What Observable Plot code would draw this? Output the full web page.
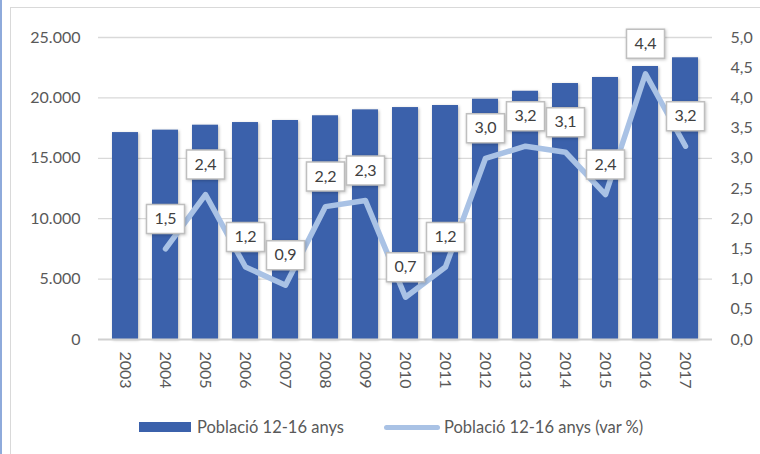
<!DOCTYPE html>
<html>
<head>
<meta charset="utf-8">
<script src="https://cdn.jsdelivr.net/npm/d3@7"></script>
<script src="https://cdn.jsdelivr.net/npm/@observablehq/plot@0.6"></script>
<style>
  html, body { margin: 0; padding: 0; background: #fff; }
  body { width: 760px; height: 454px; position: relative; overflow: hidden; font-family: Lato, "Open Sans", sans-serif; }
  #blueline { position: absolute; left: 0; top: 0; width: 2px; height: 454px; background: #8eaadb; }
  #frame { position: absolute; left: 10px; top: 7px; width: 760px; height: 460px; border-top: 1.5px solid #d9d9d9; border-left: 1.5px solid #d9d9d9; box-sizing: border-box; }
  #chart { position: absolute; left: 0; top: 0; }
  #chart svg g[aria-label="bar"] rect { filter: drop-shadow(1.5px 1.5px 1.5px rgba(0,0,0,0.28)); }
  #chart svg g[aria-label="dot"] path { filter: drop-shadow(1px 1px 1.5px rgba(0,0,0,0.22)); }
  #legend { position: absolute; left: 0; top: 400px; width: 760px; height: 54px; font-size: 16.5px; color: #595959; }
  .item { position: absolute; top: 0; height: 54px; display: flex; align-items: center; }
  .sw1 { width: 52px; height: 10px; background: #3b61ab; margin-right: 6px; }
  .sw2 { width: 56px; height: 5px; border-radius: 3px; background: #a9c2e5; margin-right: 4px; }
</style>
</head>
<body>
<div id="blueline"></div>
<div id="frame"></div>
<div id="chart"></div>
<div id="legend">
  <div class="item" style="left:139px"><div class="sw1"></div><span>Població 12-16 anys</span></div>
  <div class="item" style="left:384px"><div class="sw2"></div><span>Població 12-16 anys (var %)</span></div>
</div>
<script>
// Data
const years = ["2003","2004","2005","2006","2007","2008","2009","2010","2011","2012","2013","2014","2015","2016","2017"];
const population = [17130, 17330, 17740, 17960, 18130, 18520, 19010, 19200, 19370, 19890, 20550, 21190, 21690, 22600, 23320];
const varYears = ["2004","2005","2006","2007","2008","2009","2010","2011","2012","2013","2014","2015","2016","2017"];
const varPct = [1.5, 2.4, 1.2, 0.9, 2.2, 2.3, 0.7, 1.2, 3.0, 3.2, 3.1, 2.4, 4.4, 3.2];
const leftTicks = [0, 5000, 10000, 15000, 20000, 25000];
const rightTicks = [0, 0.5, 1.0, 1.5, 2.0, 2.5, 3.0, 3.5, 4.0, 4.5, 5.0];

// secondary axis: 0–5 % maps onto 0–25.000
const ratio = 25000 / 5;

const bars = years.map((y, i) => ({year: y, value: population[i]}));
const line = varYears.map((y, i) => ({year: y, pct: varPct[i], yv: varPct[i] * ratio}));

const fmtThousands = d => d === 0 ? "0" : d3.format(",")(d).replace(/,/g, ".");
const fmtPct = d => d.toFixed(1).replace(".", ",");

const boxSymbol = { draw(ctx) { ctx.rect(-19, -14.5, 38, 29); } };

const chart = Plot.plot({
  width: 760,
  height: 400,
  marginTop: 37,
  marginBottom: 61,
  marginLeft: 98,
  marginRight: 48,
  style: { fontFamily: "Lato, 'Open Sans', sans-serif", fontSize: "16px", color: "#595959", background: "transparent" },
  x: { type: "band", domain: years, paddingInner: 0.35, paddingOuter: 0.175 },
  y: { domain: [0, 25000] },
  marks: [
    Plot.ruleY(leftTicks.filter(d => d > 0), { stroke: "#d9d9d9", strokeWidth: 1.3 }),
    Plot.barY(bars, { x: "year", y: "value", fill: "#3b61ab" }),
    Plot.ruleY([0], { stroke: "#d0d0d0", strokeWidth: 2 }),
    Plot.axisY(leftTicks, { anchor: "left", tickSize: 0, tickPadding: 18, tickFormat: fmtThousands, fill: "#595959", fontSize: 16, label: null }),
    Plot.axisY(rightTicks.map(d => d * ratio), { anchor: "right", tickSize: 0, tickPadding: 18, tickFormat: d => fmtPct(d / ratio), fill: "#595959", fontSize: 16, textAnchor: "start", label: null }),
    Plot.axisX({ tickRotate: 90, tickSize: 0, tickPadding: 12, fill: "#595959", fontSize: 16, label: null }),
    Plot.line(line, { x: "year", y: "yv", stroke: "#a9c2e5", strokeWidth: 5.5, strokeLinejoin: "round", strokeLinecap: "round" }),
    Plot.dot(line, { x: "year", y: "yv", dy: -30, symbol: boxSymbol, r: 10, fill: "white", stroke: "#bfbfbf", strokeWidth: 1.5 }),
    Plot.text(line, { x: "year", y: "yv", dy: -30, text: d => fmtPct(d.pct), fill: "#404040", fontSize: 16 })
  ]
});
document.getElementById("chart").appendChild(chart);
</script>
</body>
</html>
